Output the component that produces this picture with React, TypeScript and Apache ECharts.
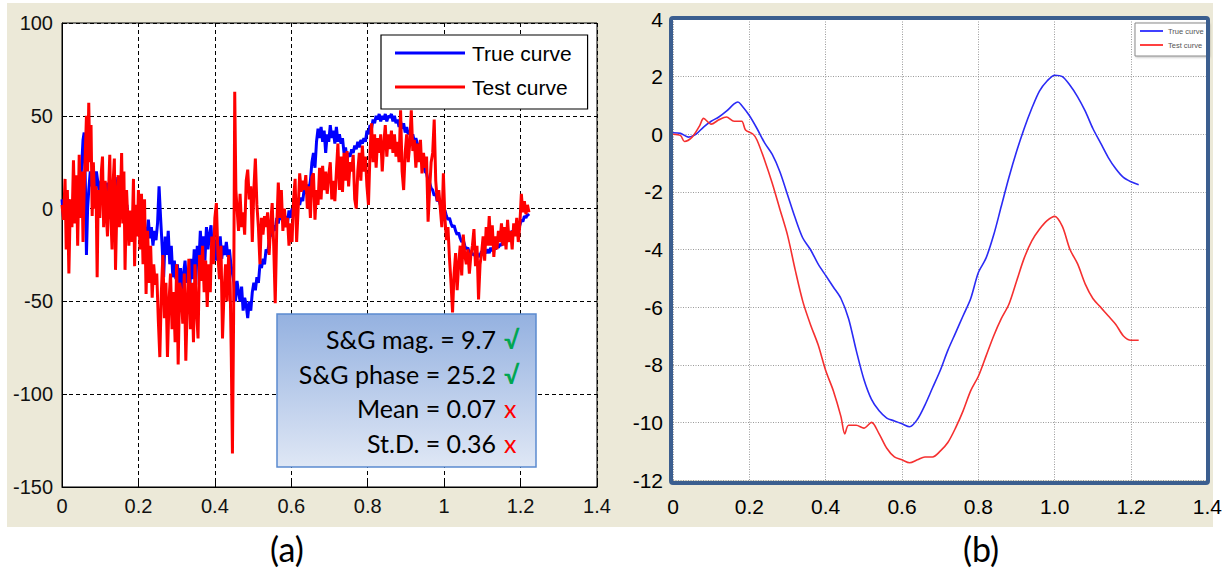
import React, { useEffect, useRef } from 'react';
import * as echarts from 'echarts';

// Panel (a): noisy traces, [time, value]
const trueCurveA: number[][] = [
  [0.000, 5], [0.004, -5], [0.008, 3], [0.012, -3], [0.016, 5], [0.020, 0], [0.024, -4], [0.028, 2], [0.032, -5], [0.036, 3],
  [0.040, -6], [0.044, 0], [0.048, 10], [0.052, 25], [0.055, 37], [0.058, 41], [0.061, 15], [0.064, -25], [0.067, 0], [0.070, 10],
  [0.074, 20], [0.078, 12], [0.082, 18], [0.086, 9], [0.090, 20], [0.094, 14], [0.098, 8], [0.102, 15], [0.106, 5], [0.110, 12],
  [0.114, 3], [0.118, 14], [0.122, 8], [0.126, 15], [0.130, 3], [0.134, 10], [0.138, 14], [0.142, 7], [0.146, 17], [0.150, 10],
  [0.154, 4], [0.158, 12], [0.162, 5], [0.166, -5], [0.170, 2], [0.174, -10], [0.178, -2], [0.182, -12], [0.186, -5], [0.190, -15],
  [0.194, -8], [0.198, -12], [0.202, -5], [0.206, -15], [0.210, -8], [0.214, -17], [0.218, -10], [0.222, -14], [0.226, -6], [0.230, -16],
  [0.234, -10], [0.238, -20], [0.242, -12], [0.246, -17], [0.250, -8], [0.254, 12], [0.258, -5], [0.262, -20], [0.266, -37], [0.270, -15],
  [0.274, -25], [0.278, -12], [0.282, -30], [0.286, -20], [0.290, -37], [0.294, -28], [0.298, -38], [0.302, -30], [0.306, -42], [0.310, -32],
  [0.314, -45], [0.318, -35], [0.322, -28], [0.326, -40], [0.330, -32], [0.334, -45], [0.338, -27], [0.342, -38], [0.346, -22], [0.350, -41],
  [0.354, -20], [0.358, -30], [0.362, -12], [0.366, -25], [0.370, -15], [0.374, -28], [0.378, -10], [0.382, -22], [0.386, -14], [0.390, -9],
  [0.394, -25], [0.398, -15], [0.402, -28], [0.406, -18], [0.410, -24], [0.414, -15], [0.418, -27], [0.422, -20], [0.426, -25], [0.430, -18],
  [0.434, -26], [0.438, -22], [0.442, -30], [0.446, -35], [0.450, -40], [0.454, -50], [0.458, -39], [0.462, -45], [0.466, -50], [0.470, -42],
  [0.474, -55], [0.478, -48], [0.482, -52], [0.486, -59], [0.490, -50], [0.494, -55], [0.498, -45], [0.502, -40], [0.506, -44], [0.510, -37],
  [0.514, -40], [0.518, -30], [0.522, -32], [0.526, -27], [0.530, -30], [0.534, -22], [0.538, -24], [0.542, -18], [0.546, -12], [0.550, -15],
  [0.554, -9], [0.558, -12], [0.562, -5], [0.566, -8], [0.570, -2], [0.574, -6], [0.578, -3], [0.582, -9], [0.586, -4], [0.590, -8],
  [0.594, -1], [0.598, -5], [0.602, 0], [0.606, -3], [0.610, 3], [0.614, 0], [0.618, 4], [0.622, 2], [0.626, 6], [0.630, 4],
  [0.634, 11], [0.638, 8], [0.642, 13], [0.646, 10], [0.650, 15], [0.654, 25], [0.658, 30], [0.662, 22], [0.666, 36], [0.670, 43],
  [0.674, 38], [0.678, 44], [0.682, 36], [0.686, 42], [0.690, 30], [0.694, 40], [0.698, 36], [0.702, 45], [0.706, 38], [0.710, 42],
  [0.714, 35], [0.718, 44], [0.722, 36], [0.726, 40], [0.730, 35], [0.734, 38], [0.738, 30], [0.742, 33], [0.746, 26], [0.750, 30],
  [0.754, 28], [0.758, 32], [0.762, 30], [0.766, 34], [0.770, 32], [0.774, 36], [0.778, 33], [0.782, 37], [0.786, 35], [0.790, 38],
  [0.794, 36], [0.798, 42], [0.802, 40], [0.806, 45], [0.810, 43], [0.814, 48], [0.818, 46], [0.822, 50], [0.826, 48], [0.830, 51],
  [0.834, 47], [0.838, 50], [0.842, 48], [0.846, 51], [0.850, 47], [0.854, 50], [0.858, 49], [0.862, 51], [0.866, 47], [0.870, 50],
  [0.874, 46], [0.878, 48], [0.882, 44], [0.886, 47], [0.890, 43], [0.894, 46], [0.898, 41], [0.902, 44], [0.906, 40], [0.910, 42],
  [0.914, 38], [0.918, 40], [0.922, 36], [0.926, 38], [0.930, 35], [0.934, 33], [0.938, 28], [0.942, 26], [0.946, 24], [0.950, 20],
  [0.954, 19], [0.958, 15], [0.962, 14], [0.966, 11], [0.970, 10], [0.974, 7], [0.978, 8], [0.982, 4], [0.986, 5], [0.990, 2],
  [0.994, 1], [0.998, -2], [1.002, -1], [1.006, -4], [1.010, -6], [1.014, -5], [1.018, -8], [1.022, -10], [1.026, -9], [1.030, -12],
  [1.034, -14], [1.038, -13], [1.042, -16], [1.046, -18], [1.050, -17], [1.054, -20], [1.058, -22], [1.062, -21], [1.066, -24], [1.070, -23],
  [1.074, -25], [1.078, -24], [1.082, -26], [1.086, -24], [1.090, -26], [1.094, -25], [1.098, -23], [1.102, -25], [1.106, -23], [1.110, -24],
  [1.114, -22], [1.118, -24], [1.122, -21], [1.126, -23], [1.130, -20], [1.134, -22], [1.138, -20], [1.142, -21], [1.146, -19], [1.150, -20],
  [1.154, -17], [1.158, -18], [1.162, -15], [1.166, -16], [1.170, -13], [1.174, -14], [1.178, -12], [1.182, -13], [1.186, -10], [1.190, -11],
  [1.194, -8], [1.198, -9], [1.202, -6], [1.206, -7], [1.210, -4], [1.214, -5], [1.218, -3], [1.222, -4],
];

const testCurveA: number[][] = [
  [0.000, 2], [0.004, -6], [0.008, 16], [0.011, -22], [0.014, 10], [0.018, -35], [0.022, 5], [0.026, -10], [0.030, 26], [0.034, -8],
  [0.038, 18], [0.041, -20], [0.045, 29], [0.049, -5], [0.052, 20], [0.055, -18], [0.058, 10], [0.061, 30], [0.064, 50], [0.067, 20],
  [0.070, 57], [0.073, 25], [0.076, 45], [0.079, -4], [0.082, 25], [0.086, 0], [0.089, 12], [0.092, -37], [0.095, 10], [0.099, -5],
  [0.103, 20], [0.106, 28], [0.109, -10], [0.113, 15], [0.116, -2], [0.119, -15], [0.122, 10], [0.125, 29], [0.128, -5], [0.131, -22],
  [0.134, 15], [0.137, 27], [0.140, -33], [0.144, 5], [0.147, 18], [0.150, -10], [0.153, 5], [0.156, 30], [0.159, -8], [0.162, 20],
  [0.165, -33], [0.169, 10], [0.172, -5], [0.175, -20], [0.179, -1], [0.183, -18], [0.187, 16], [0.190, -31], [0.193, 2], [0.197, -15],
  [0.200, 10], [0.204, -22], [0.208, 8], [0.212, -30], [0.216, 5], [0.220, -46], [0.224, -12], [0.228, -40], [0.232, -20], [0.236, -48],
  [0.240, -30], [0.244, -41], [0.248, -35], [0.252, -60], [0.256, -80], [0.260, -45], [0.264, -25], [0.268, -59], [0.272, -40], [0.276, -80],
  [0.280, -50], [0.284, -35], [0.288, -65], [0.292, -45], [0.296, -72], [0.300, -30], [0.304, -84], [0.308, -40], [0.312, -45], [0.316, -62],
  [0.320, -35], [0.324, -82], [0.328, -50], [0.332, -27], [0.336, -65], [0.340, -40], [0.344, -72], [0.348, -30], [0.352, -55], [0.356, -70],
  [0.360, -25], [0.364, -39], [0.368, -20], [0.372, -45], [0.376, -28], [0.380, -53], [0.384, -30], [0.388, -45], [0.392, -15], [0.396, -30],
  [0.400, -5], [0.404, 3], [0.408, -25], [0.412, -38], [0.416, -20], [0.420, -70], [0.424, -45], [0.428, -30], [0.432, -50], [0.436, -25],
  [0.440, -40], [0.443, -80], [0.446, -132], [0.449, -60], [0.452, 63], [0.455, 10], [0.458, 0], [0.462, -12], [0.466, 8], [0.470, -10],
  [0.474, -2], [0.478, -14], [0.482, 15], [0.486, 21], [0.490, 5], [0.494, 12], [0.498, -18], [0.502, 10], [0.506, 27], [0.510, 2],
  [0.514, -10], [0.518, -30], [0.522, -5], [0.526, -14], [0.530, -4], [0.534, -10], [0.538, -2], [0.542, -25], [0.546, -8], [0.550, 3],
  [0.554, -20], [0.558, -51], [0.562, -10], [0.566, 14], [0.570, -5], [0.574, 10], [0.578, -12], [0.582, 0], [0.586, -10], [0.590, -5],
  [0.594, -20], [0.598, -8], [0.602, -18], [0.606, 5], [0.610, 16], [0.614, -18], [0.618, 0], [0.622, 19], [0.626, 9], [0.630, 15],
  [0.634, 10], [0.638, 18], [0.642, 0], [0.646, 12], [0.650, -5], [0.654, 17], [0.658, 19], [0.662, -6], [0.666, 10], [0.670, 2],
  [0.674, 22], [0.678, 5], [0.682, 23], [0.686, 10], [0.690, 20], [0.694, 8], [0.698, 18], [0.702, 25], [0.706, 5], [0.710, 15],
  [0.714, 4], [0.718, 20], [0.722, 35], [0.726, 10], [0.730, 28], [0.734, 9], [0.738, 30], [0.742, 15], [0.746, 31], [0.750, 12],
  [0.754, 25], [0.758, 20], [0.762, 29], [0.766, 5], [0.770, 0], [0.774, 20], [0.778, 30], [0.782, 15], [0.786, 34], [0.790, 20],
  [0.794, 28], [0.798, 12], [0.802, 2], [0.806, 30], [0.810, 46], [0.814, 25], [0.818, 40], [0.822, 22], [0.826, 38], [0.830, 30],
  [0.834, 40], [0.838, 20], [0.842, 35], [0.846, 45], [0.850, 28], [0.854, 40], [0.858, 32], [0.862, 42], [0.866, 30], [0.870, 40],
  [0.874, 28], [0.878, 36], [0.882, 25], [0.886, 53], [0.890, 20], [0.894, 10], [0.898, 30], [0.902, 40], [0.906, 25], [0.910, 35],
  [0.914, 53], [0.918, 31], [0.922, 37], [0.926, 22], [0.930, 35], [0.934, 25], [0.938, 37], [0.942, 19], [0.946, 30], [0.950, 22],
  [0.954, 28], [0.958, -7], [0.962, 10], [0.966, 25], [0.970, 30], [0.974, 48], [0.978, 15], [0.982, 4], [0.986, 10], [0.990, 0],
  [0.994, -10], [0.998, 19], [1.002, -5], [1.006, -17], [1.010, -10], [1.014, -27], [1.018, -40], [1.022, -56], [1.026, -35], [1.030, -24],
  [1.034, -44], [1.038, -30], [1.042, -20], [1.046, -36], [1.050, -14], [1.054, -25], [1.058, -30], [1.062, -22], [1.066, -35], [1.070, -25],
  [1.074, -20], [1.078, -11], [1.082, -31], [1.086, -20], [1.090, -49], [1.094, -30], [1.098, -24], [1.102, -15], [1.106, -28], [1.110, -10],
  [1.114, -20], [1.118, -4], [1.122, -20], [1.126, -9], [1.130, -26], [1.134, -15], [1.138, -22], [1.142, -12], [1.146, -18], [1.150, -8],
  [1.154, -20], [1.158, -10], [1.162, -22], [1.166, -6], [1.170, -18], [1.174, -12], [1.178, -22], [1.182, -8], [1.186, -15], [1.190, -5],
  [1.194, -18], [1.198, -9], [1.202, 8], [1.206, -2], [1.210, 4], [1.214, -3], [1.218, 2], [1.222, -2],
];

// Panel (b): smoothed traces
const trueCurveB: number[][] = [
  [0.00, 0.05], [0.02, 0.03], [0.04, -0.1], [0.06, 0.0], [0.08, 0.25], [0.10, 0.45], [0.12, 0.6], [0.14, 0.8], [0.16, 1.05], [0.17, 1.12],
  [0.18, 1.0], [0.20, 0.65], [0.22, 0.2], [0.24, -0.3], [0.26, -0.7], [0.28, -1.3], [0.30, -2.1], [0.32, -2.9], [0.34, -3.6], [0.36, -4.0],
  [0.38, -4.5], [0.40, -4.9], [0.42, -5.3], [0.44, -5.7], [0.46, -6.4], [0.48, -7.5], [0.50, -8.5], [0.52, -9.2], [0.54, -9.6], [0.56, -9.85],
  [0.58, -9.95], [0.60, -10.05], [0.62, -10.15], [0.64, -9.9], [0.66, -9.4], [0.68, -8.8], [0.70, -8.2], [0.72, -7.5], [0.74, -6.9], [0.76, -6.3],
  [0.78, -5.7], [0.80, -4.8], [0.82, -4.3], [0.84, -3.5], [0.86, -2.5], [0.88, -1.5], [0.90, -0.6], [0.92, 0.2], [0.94, 0.9], [0.96, 1.5],
  [0.98, 1.85], [1.00, 2.05], [1.02, 2.0], [1.04, 1.7], [1.06, 1.3], [1.08, 0.8], [1.10, 0.2], [1.12, -0.3], [1.14, -0.8], [1.16, -1.2],
  [1.18, -1.5], [1.20, -1.65], [1.22, -1.75],
];

const testCurveB: number[][] = [
  [0.00, 0.0], [0.02, -0.05], [0.03, -0.25], [0.05, -0.1], [0.07, 0.3], [0.08, 0.55], [0.10, 0.35], [0.12, 0.5], [0.14, 0.6], [0.16, 0.45],
  [0.18, 0.45], [0.19, 0.15], [0.21, 0.0], [0.22, -0.2], [0.24, -0.9], [0.26, -1.7], [0.28, -2.6], [0.30, -3.5], [0.32, -4.7], [0.34, -5.8],
  [0.36, -6.6], [0.38, -7.3], [0.40, -8.2], [0.42, -8.9], [0.44, -9.8], [0.45, -10.4], [0.46, -10.1], [0.48, -10.1], [0.50, -10.2], [0.52, -10.0],
  [0.54, -10.4], [0.56, -10.9], [0.58, -11.2], [0.60, -11.3], [0.62, -11.4], [0.64, -11.3], [0.66, -11.2], [0.68, -11.2], [0.70, -11.0], [0.72, -10.7],
  [0.74, -10.2], [0.76, -9.6], [0.78, -8.9], [0.80, -8.4], [0.82, -7.7], [0.84, -7.0], [0.86, -6.4], [0.88, -5.9], [0.90, -5.1], [0.92, -4.3],
  [0.94, -3.7], [0.96, -3.3], [0.98, -3.0], [1.00, -2.85], [1.02, -3.2], [1.04, -4.0], [1.06, -4.5], [1.08, -5.2], [1.10, -5.7], [1.12, -6.0],
  [1.14, -6.3], [1.16, -6.6], [1.18, -7.0], [1.20, -7.15], [1.22, -7.15],
];

const seriesNames = ['True curve', 'Test curve'];
const statLabels = ['S&G mag. = 9.7', 'S&G phase = 25.2', 'Mean = 0.07', 'St.D. = 0.36'];
const statPass = [true, true, false, false];
const panelLabels = ['(a)', '(b)'];

export default function App() {
  const ref = useRef<HTMLDivElement>(null);
  useEffect(() => {
    const chart = echarts.init(ref.current!, null, { renderer: 'svg' });
    const fmtA = (v: number) => String(Math.round(v * 10) / 10);
    const fmtB = (v: number) => (Math.abs(v) < 1e-9 ? '0' : (Math.round(v * 10) / 10).toFixed(1));
    const labA = { color: '#111', fontSize: 20, fontFamily: 'Liberation Sans, Arial, sans-serif' };
    const labB = { color: '#000', fontSize: 21, fontFamily: 'Liberation Sans, Arial, sans-serif' };
    const dashA = { show: true, lineStyle: { color: '#000', width: 1, type: [4, 3] as any } };
    const dotB = { show: true, lineStyle: { color: '#9a9a9a', width: 1, type: [1, 1.5] as any } };

    const statTexts: any[] = [];
    statLabels.forEach((s, i) => {
      const y = 339 + i * 34.5;
      statTexts.push({
        type: 'text', z: 101, x: 496, y,
        style: { text: s, fill: '#000', font: '25px Lato, "Open Sans", sans-serif', textAlign: 'right', textVerticalAlign: 'middle' },
      });
      statTexts.push({
        type: 'text', z: 101, x: 504, y,
        style: {
          text: statPass[i] ? '√' : 'x',
          fill: statPass[i] ? '#00A651' : '#FF0000',
          font: (statPass[i] ? 'bold ' : '') + '25px Lato, "Open Sans", sans-serif',
          textAlign: 'left', textVerticalAlign: 'middle',
        },
      });
    });

    const option: any = {
      animation: false,
      grid: [
        { left: 62, top: 23, width: 535, height: 464, show: true, backgroundColor: '#fff', borderColor: '#000', borderWidth: 1 },
        { left: 673, top: 19, width: 535, height: 461, show: true, backgroundColor: '#fff', borderWidth: 0 },
      ],
      xAxis: [
        {
          gridIndex: 0, type: 'value', min: 0, max: 1.4, interval: 0.2,
          axisLine: { show: true, onZero: false, lineStyle: { color: '#000' } },
          axisTick: { show: true, inside: true, length: 5, lineStyle: { color: '#000' } },
          axisLabel: { ...labA, margin: 9, formatter: fmtA },
          splitLine: dashA,
        },
        {
          gridIndex: 1, type: 'value', min: 0, max: 1.4, interval: 0.2,
          axisLine: { show: false, onZero: false },
          axisTick: { show: false },
          axisLabel: { ...labB, margin: 16, formatter: fmtB },
          splitLine: dotB,
        },
      ],
      yAxis: [
        {
          gridIndex: 0, type: 'value', min: -150, max: 100, interval: 50,
          axisLine: { show: true, onZero: false, lineStyle: { color: '#000' } },
          axisTick: { show: true, inside: true, length: 5, lineStyle: { color: '#000' } },
          axisLabel: { ...labA, margin: 9 },
          splitLine: dashA,
        },
        {
          gridIndex: 1, type: 'value', min: -12, max: 4, interval: 2,
          axisLine: { show: false, onZero: false },
          axisTick: { show: false },
          axisLabel: { ...labB, margin: 10 },
          splitLine: dotB,
        },
      ],
      legend: [
        {
          data: seriesNames, orient: 'vertical', left: 381, top: 35,
          padding: [6, 16, 10, 14], itemGap: 10, itemWidth: 70, itemHeight: 3, icon: 'rect',
          backgroundColor: '#fff', borderColor: '#000', borderWidth: 1.2,
          textStyle: { color: '#000', fontSize: 21, lineHeight: 24, fontFamily: 'Liberation Sans, Arial, sans-serif', padding: [0, 0, 0, 2] },
          selectedMode: false,
        },
        {
          data: seriesNames, orient: 'vertical', left: 1135, top: 23,
          padding: [3, 5, 6, 5], itemGap: 4, itemWidth: 23, itemHeight: 1.5, icon: 'rect',
          backgroundColor: '#fff', borderColor: '#8a8a8a', borderWidth: 1,
          shadowColor: 'rgba(0,0,0,0.25)', shadowBlur: 2, shadowOffsetX: 1, shadowOffsetY: 1,
          textStyle: { color: '#555', fontSize: 7.5, lineHeight: 10, fontFamily: 'Liberation Sans Narrow, Liberation Sans, sans-serif' },
          selectedMode: false,
        },
      ],
      series: [
        {
          name: seriesNames[0], type: 'line', xAxisIndex: 0, yAxisIndex: 0, data: trueCurveA,
          symbol: 'none', lineStyle: { color: '#0000FF', width: 3 }, itemStyle: { color: '#0000FF' }, z: 2,
        },
        {
          name: seriesNames[1], type: 'line', xAxisIndex: 0, yAxisIndex: 0, data: testCurveA,
          symbol: 'none', lineStyle: { color: '#FF0000', width: 3 }, itemStyle: { color: '#FF0000' }, z: 3,
        },
        {
          name: seriesNames[0], type: 'line', xAxisIndex: 1, yAxisIndex: 1, data: trueCurveB, smooth: 0.3,
          symbol: 'none', lineStyle: { color: '#2B2BF5', width: 1.6 }, itemStyle: { color: '#2B2BF5' },
        },
        {
          name: seriesNames[1], type: 'line', xAxisIndex: 1, yAxisIndex: 1, data: testCurveB, smooth: 0.3,
          symbol: 'none', lineStyle: { color: '#F53030', width: 1.6 }, itemStyle: { color: '#F53030' },
        },
      ],
      graphic: [
        {
          type: 'rect', z: 100, shape: { x: 277, y: 314, width: 259, height: 153 },
          style: {
            fill: new echarts.graphic.LinearGradient(0, 0, 0, 1, [
              { offset: 0, color: '#94B1E0' },
              { offset: 1, color: '#DFE7F5' },
            ]),
            stroke: '#5B8BCF', lineWidth: 1.5,
          },
        },
        ...statTexts,
        {
          type: 'rect', z: 100, shape: { x: 671, y: 18, width: 537, height: 465, r: 2 },
          style: { fill: 'none', stroke: '#3B5E8F', lineWidth: 4 },
        },
        {
          type: 'text', z: 100, x: 287, y: 548,
          style: { text: panelLabels[0], fill: '#000', font: '34px Lato, "Open Sans", sans-serif', textAlign: 'center', textVerticalAlign: 'middle' },
        },
        {
          type: 'text', z: 100, x: 981, y: 548,
          style: { text: panelLabels[1], fill: '#000', font: '34px Lato, "Open Sans", sans-serif', textAlign: 'center', textVerticalAlign: 'middle' },
        },
      ],
    };
    chart.setOption(option);
    return () => chart.dispose();
  }, []);

  return (
    <div style={{ position: 'fixed', left: 0, top: 0, width: 1225, height: 571, background: '#fff' }}>
      <div style={{ position: 'absolute', left: 7, top: 3, width: 1206, height: 524, background: '#ECE9D8' }} />
      <div ref={ref} style={{ position: 'absolute', left: 0, top: 0, width: 1225, height: 571 }} />
    </div>
  );
}
